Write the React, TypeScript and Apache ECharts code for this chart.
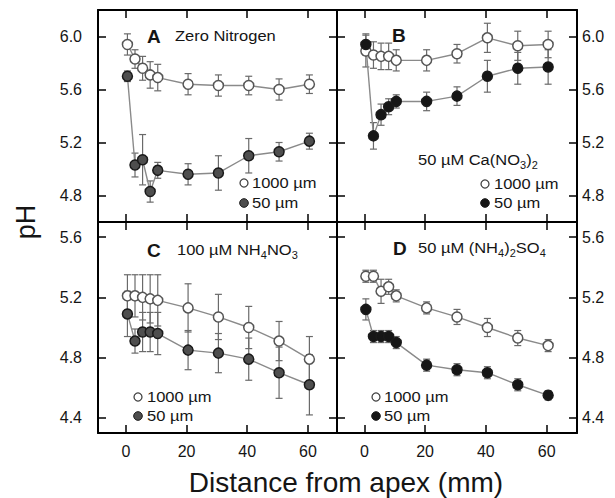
import React, { useEffect, useRef } from 'react';
import * as echarts from 'echarts';

// ---- data ----
const distance = [0.5, 3, 5.5, 8, 10.5, 20.5, 30.5, 40.5, 50.5, 60.5];
const xTicks = [0, 20, 40, 60];
const yTicksTop = [4.8, 5.2, 5.6, 6.0];
const yTicksBottom = [4.4, 4.8, 5.2, 5.6];

const aOpen = [5.94, 5.83, 5.76, 5.71, 5.69, 5.64, 5.63, 5.63, 5.6, 5.64];
const aOpenErr = [0.08, 0.07, 0.09, 0.1, 0.1, 0.08, 0.08, 0.07, 0.08, 0.07];
const aFilled = [5.7, 5.03, 5.07, 4.83, 4.99, 4.96, 4.97, 5.1, 5.13, 5.21];
const aFilledErr = [0.04, 0.09, 0.19, 0.08, 0.06, 0.08, 0.13, 0.13, 0.07, 0.06];

const bOpen = [5.89, 5.86, 5.85, 5.85, 5.82, 5.82, 5.87, 5.99, 5.93, 5.94];
const bOpenErr = [0.12, 0.1, 0.1, 0.1, 0.08, 0.08, 0.07, 0.11, 0.11, 0.1];
const bFilled = [5.94, 5.25, 5.41, 5.47, 5.51, 5.51, 5.55, 5.7, 5.76, 5.77];
const bFilledErr = [0.08, 0.1, 0.08, 0.06, 0.05, 0.07, 0.07, 0.12, 0.12, 0.13];

const cOpen = [5.21, 5.21, 5.2, 5.19, 5.18, 5.13, 5.07, 5.0, 4.91, 4.79];
const cOpenErr = [0.14, 0.14, 0.15, 0.16, 0.17, 0.16, 0.15, 0.14, 0.13, 0.15];
const cFilled = [5.09, 4.91, 4.97, 4.97, 4.96, 4.85, 4.83, 4.79, 4.7, 4.62];
const cFilledErr = [0.15, 0.08, 0.13, 0.13, 0.14, 0.13, 0.13, 0.14, 0.17, 0.2];

const dOpen = [5.34, 5.34, 5.24, 5.27, 5.21, 5.13, 5.07, 5.0, 4.93, 4.88];
const dOpenErr = [0.04, 0.04, 0.08, 0.05, 0.04, 0.04, 0.05, 0.06, 0.05, 0.04];
const dFilled = [5.12, 4.94, 4.94, 4.94, 4.9, 4.75, 4.72, 4.7, 4.62, 4.55];
const dFilledErr = [0.07, 0.04, 0.04, 0.04, 0.04, 0.04, 0.04, 0.04, 0.04, 0.03];

const FONT = '"Liberation Sans", Arial, Helvetica, sans-serif';
const INK = '#151515';

function buildOption() {
  const panels = [
    { grid: { left: 98, top: 10, width: 239, height: 212 }, xr: [-9.2, 69.6], yr: [4.6, 6.2], yt: yTicksTop, xl: false, yl: 'left',
      open: aOpen, openErr: aOpenErr, filled: aFilled, filledErr: aFilledErr, fill: '#4e4e4e' },
    { grid: { left: 337, top: 10, width: 240, height: 212 }, xr: [-9, 70], yr: [4.6, 6.2], yt: yTicksTop, xl: false, yl: 'right',
      open: bOpen, openErr: bOpenErr, filled: bFilled, filledErr: bFilledErr, fill: '#161616' },
    { grid: { left: 98, top: 222, width: 239, height: 211 }, xr: [-9.2, 69.6], yr: [4.3, 5.7], yt: yTicksBottom, xl: true, yl: 'left',
      open: cOpen, openErr: cOpenErr, filled: cFilled, filledErr: cFilledErr, fill: '#4e4e4e' },
    { grid: { left: 337, top: 222, width: 240, height: 211 }, xr: [-9, 70], yr: [4.3, 5.7], yt: yTicksBottom, xl: true, yl: 'right',
      open: dOpen, openErr: dOpenErr, filled: dFilled, filledErr: dFilledErr, fill: '#161616' },
  ];

  const axisLine = { show: true, onZero: false, lineStyle: { color: '#000', width: 2 } };
  const tickStyle = { color: '#000', width: 1.5 };
  const labelBase = { fontSize: 16, color: INK, fontFamily: FONT };

  const xAxis: any[] = [];
  const yAxis: any[] = [];
  const series: any[] = [];

  panels.forEach((p, gi) => {
    const xb = { type: 'value', gridIndex: gi, min: p.xr[0], max: p.xr[1], splitLine: { show: false }, axisLine,
      axisTick: { show: true, inside: true, length: 8, lineStyle: tickStyle, customValues: xTicks } };
    xAxis.push({ ...xb, position: 'bottom', axisLabel: { ...labelBase, show: p.xl, customValues: xTicks, margin: 10 } });
    xAxis.push({ ...xb, position: 'top', axisLabel: { show: false } });
    const yb = { type: 'value', gridIndex: gi, min: p.yr[0], max: p.yr[1], splitLine: { show: false }, axisLine,
      axisTick: { show: true, inside: true, length: 8, lineStyle: tickStyle, customValues: p.yt } };
    const fmt = (v: number) => v.toFixed(1);
    yAxis.push({ ...yb, position: 'left', axisLabel: { ...labelBase, show: p.yl === 'left', customValues: p.yt, margin: 16, formatter: fmt } });
    yAxis.push({ ...yb, position: 'right', axisLabel: { ...labelBase, show: p.yl === 'right', customValues: p.yt, margin: 5, formatter: fmt } });

    const errSeries = (vals: number[], errs: number[]) => ({
      type: 'custom', xAxisIndex: gi * 2, yAxisIndex: gi * 2, z: 1,
      data: distance.map((x, i) => [x, vals[i], errs[i]]),
      encode: { x: 0, y: 1 },
      renderItem: (params: any, api: any) => {
        const x = api.value(0), y = api.value(1), e = api.value(2);
        const t = api.coord([x, y + e]);
        const b = api.coord([x, y - e]);
        const cw = 3.5;
        const st = { stroke: '#6a6a6a', lineWidth: 1.2 };
        return { type: 'group', children: [
          { type: 'line', shape: { x1: t[0], y1: t[1], x2: b[0], y2: b[1] }, style: st },
          { type: 'line', shape: { x1: t[0] - cw, y1: t[1], x2: t[0] + cw, y2: t[1] }, style: st },
          { type: 'line', shape: { x1: b[0] - cw, y1: b[1], x2: b[0] + cw, y2: b[1] }, style: st },
        ] };
      },
    });
    series.push(errSeries(p.open, p.openErr));
    series.push(errSeries(p.filled, p.filledErr));

    const lineSeries = (vals: number[], fill: string, border: string) => ({
      type: 'line', xAxisIndex: gi * 2, yAxisIndex: gi * 2, z: 3,
      data: distance.map((x, i) => [x, vals[i]]),
      symbol: 'circle', symbolSize: 10, showSymbol: true,
      lineStyle: { color: '#8a8a8a', width: 1.4 },
      itemStyle: { color: fill, borderColor: border, borderWidth: 1.5 },
    });
    series.push(lineSeries(p.open, '#ffffff', '#555555'));
    series.push(lineSeries(p.filled, p.fill, '#1a1a1a'));
  });

  const txt = (x: number, y: number, text: string, extra: any = {}, sx = 1.1) => ({
    type: 'text', x, y, scaleX: sx, z: 10,
    style: { text, fontSize: 15, fontFamily: FONT, fill: INK, align: 'left', verticalAlign: 'middle', ...extra },
  });
  const letter = (x: number, y: number, t: string) => ({
    type: 'text', x, y, z: 10,
    style: { text: t, fontSize: 19, fontWeight: 'bold', fontFamily: FONT, fill: INK, align: 'left', verticalAlign: 'middle' },
  });
  const rich = {
    n: { fontSize: 15, lineHeight: 15, verticalAlign: 'top', fontFamily: FONT, fill: INK, color: INK },
    s: { fontSize: 10, lineHeight: 18, verticalAlign: 'bottom', fontFamily: FONT, fill: INK, color: INK },
  };
  const richTxt = (x: number, cy: number, text: string) => ({
    type: 'text', x, y: cy - 8, scaleX: 1.1, z: 10,
    style: { text, rich, fontFamily: FONT, fill: INK, align: 'left', verticalAlign: 'top' },
  });
  const openDot = (x: number, y: number) => ({ type: 'circle', z: 10, shape: { cx: x, cy: y, r: 4 }, style: { fill: '#fff', stroke: '#444', lineWidth: 1.3 } });
  const fillDot = (x: number, y: number, f: string) => ({ type: 'circle', z: 10, shape: { cx: x, cy: y, r: 4.3 }, style: { fill: f, stroke: '#1a1a1a', lineWidth: 1 } });
  const legend = (cx: number, tx: number, y1: number, y2: number, f: string) => [
    openDot(cx, y1), txt(tx, y1, '1000 µm'),
    fillDot(cx, y2, f), txt(tx, y2, '50 µm'),
  ];

  const graphic: any[] = [
    letter(147, 36, 'A'), txt(175, 36, 'Zero Nitrogen'),
    letter(392, 35, 'B'), richTxt(418, 160, '{n|50 µM Ca(NO}{s|3}{n|)}{s|2}'),
    letter(147, 250, 'C'), richTxt(177, 250, '{n|100 µM NH}{s|4}{n|NO}{s|3}'),
    letter(393, 248, 'D'), richTxt(418, 248, '{n|50 µM (NH}{s|4}{n|)}{s|2}{n|SO}{s|4}'),
    ...legend(244, 252, 183, 203, '#4e4e4e'),
    ...legend(485, 494, 184, 203, '#161616'),
    ...legend(138, 147, 397, 416, '#4e4e4e'),
    ...legend(376, 384, 397, 416, '#161616'),
    { type: 'text', x: 26, y: 222, rotation: Math.PI / 2, z: 10,
      style: { text: 'pH', fontSize: 27, fontFamily: FONT, fill: INK, align: 'center', verticalAlign: 'middle' } },
    { type: 'text', x: 346, y: 482, z: 10,
      style: { text: 'Distance from apex (mm)', fontSize: 28, fontFamily: FONT, fill: INK, align: 'center', verticalAlign: 'middle' } },
  ];

  return {
    animation: false,
    backgroundColor: '#ffffff',
    grid: panels.map((p) => ({ ...p.grid, containLabel: false })),
    xAxis, yAxis, series, graphic,
  };
}

export default function App() {
  const ref = useRef<HTMLDivElement>(null);
  useEffect(() => {
    if (!ref.current) return;
    const chart = echarts.init(ref.current, undefined, { renderer: 'svg' });
    chart.setOption(buildOption() as any);
    return () => chart.dispose();
  }, []);
  return <div ref={ref} style={{ position: 'fixed', left: 0, top: 0, width: 615, height: 498 }} />;
}
